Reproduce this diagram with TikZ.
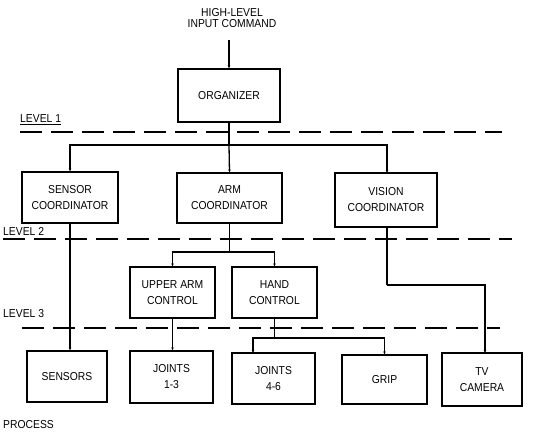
\documentclass[tikz,border=0pt]{standalone}
\usepackage{fontspec}
\setmainfont{Liberation Sans}[FakeStretch=0.9]
\usetikzlibrary{arrows.meta}
\begin{document}
\begin{tikzpicture}[x=1pt,y=-1pt,
  box/.style={draw,line width=1.3pt,align=center,inner sep=0pt,font=\fontsize{11.5}{16}\selectfont},
  conn/.style={line width=1.3pt},
  arr/.style={line width=1.3pt,-{Stealth[length=3pt,width=2.5pt]}},
  lvl/.style={line width=1.2pt,dash pattern=on 22pt off 9pt},
  lab/.style={anchor=west,inner sep=0pt,font=\fontsize{11.5}{12}\selectfont}]
\useasboundingbox (0,0) rectangle (541,436);
% boxes
\node[box,minimum width=102pt,minimum height=53pt] (org) at (229,95.5) {ORGANIZER};
\node[box,minimum width=96pt,minimum height=51pt] (sc) at (70,197.5) {SENSOR\\COORDINATOR};
\node[box,minimum width=105pt,minimum height=50pt] (ac) at (229.5,198) {ARM\\COORDINATOR};
\node[box,minimum width=102pt,minimum height=54pt] (vc) at (386,200) {VISION\\COORDINATOR};
\node[box,minimum width=85pt,minimum height=51pt] (ua) at (172.5,292.5) {UPPER ARM\\CONTROL};
\node[box,minimum width=85pt,minimum height=51pt] (hc) at (274.5,292.5) {HAND\\CONTROL};
\node[box,minimum width=80pt,minimum height=51pt] (sens) at (67,376.5) {SENSORS};
\node[box,minimum width=83pt,minimum height=52pt] (j13) at (171.5,377) {JOINTS\\1-3};
\node[box,minimum width=83pt,minimum height=51pt] (j46) at (273.5,378.5) {JOINTS\\4-6};
\node[box,minimum width=85pt,minimum height=49pt] (grip) at (384.5,379.5) {GRIP};
\node[box,minimum width=80pt,minimum height=53pt] (tv) at (482,379.5) {TV\\CAMERA};
% texts
\node[align=center,inner sep=0pt,font=\fontsize{11.5}{11.5}\selectfont] (hl) at (232,18) {HIGH-LEVEL\\INPUT COMMAND};
\node[lab] (l1) at (20,120) {\underline{LEVEL 1}};
\node[lab] (l2) at (3,231) {LEVEL 2};
\node[lab] (l3) at (3,314) {LEVEL 3};
\node[lab] (proc) at (3,425) {PROCESS};
% level lines
\coordinate (d1a) at (20,132); \coordinate (d1b) at (502,132);
\coordinate (d2a) at (3,239); \coordinate (d2b) at (512,239);
\coordinate (d3a) at (22,328); \coordinate (d3b) at (500,328);
\draw[lvl] (d1a) -- (d1b);
\draw[lvl] (d2a) -- (d2b);
\draw[lvl] (d3a) -- (d3b);
% connectors
\coordinate (in) at (229,40);
\draw[arr] (in) -- (org.north);
\coordinate (bus) at (229,145);
\draw[conn] (org.south) -- (bus);
\draw[arr] (bus) -| (sc.north);
\draw[arr] (bus) -- (ac.north);
\coordinate (vtop) at (387,173);
\draw[arr] (bus) -| (vtop);
\coordinate (ab) at (229.5,252);
\draw[conn] (ac.south) -- (ab);
\draw[arr] (ab) -| (ua.north);
\draw[arr] (ab) -| (hc.north);
\draw[arr] (sc.south) -- (sc.south |- sens.north);
\draw[arr] (ua.south) -- (ua.south |- j13.north);
\coordinate (hb) at (274.5,338);
\draw[conn] (hc.south) -- (hb);
\coordinate (j46t) at (253,353);
\draw[arr] (hb) -| (j46t);
\draw[arr] (hb) -| (grip.north);
\coordinate (vb) at (387,227);
\coordinate (vm) at (387,285);
\coordinate (tvt) at (485,353);
\draw[conn] (vb) -- (vm);
\draw[arr] (vm) -| (tvt);
\end{tikzpicture}
\end{document}
